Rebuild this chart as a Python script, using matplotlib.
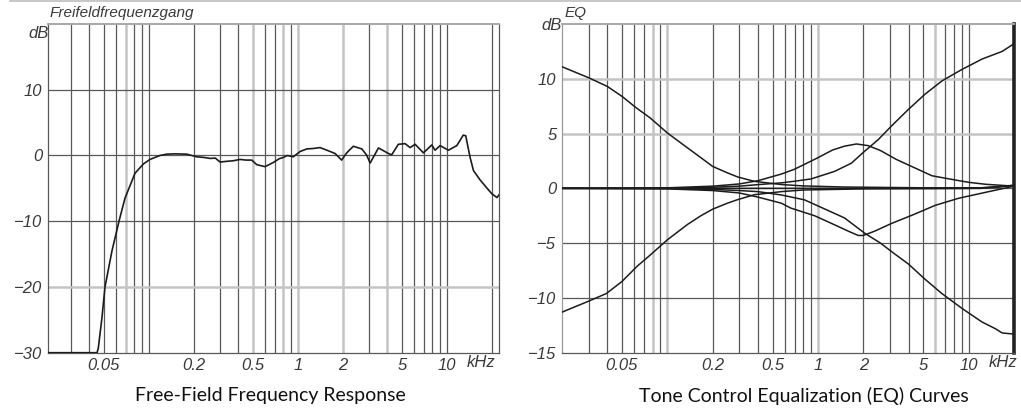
import matplotlib
matplotlib.use("Agg")
import matplotlib.pyplot as plt
from matplotlib.lines import Line2D

# ---------------- data (frequencies in kHz, levels in dB) ----------------
ff_khz = [0.0211, 0.045, 0.0459, 0.0485, 0.0509, 0.0567, 0.0632, 0.0693, 0.0749, 0.0809,
          0.092, 0.102, 0.119, 0.132, 0.15, 0.18, 0.21, 0.235, 0.258, 0.28,
          0.301, 0.33, 0.37, 0.41, 0.45, 0.491, 0.531, 0.603, 0.686, 0.75,
          0.80, 0.85, 0.934, 1.036, 1.15, 1.27, 1.41, 1.57, 1.78, 1.97,
          2.13, 2.36, 2.69, 2.90, 3.06, 3.48, 4.06, 4.27, 4.73, 5.25,
          5.67, 6.13, 6.97, 7.93, 8.34, 9.02, 10.25, 11.67, 12.9, 13.4,
          14.3, 15.1, 16.7, 18.5, 20.0, 21.7, 22.4]
ff_db = [-30, -30, -29.3, -24.8, -20, -14.5, -10, -6.5, -4.6, -2.7,
         -1.3, -0.6, 0.0, 0.2, 0.25, 0.2, -0.2, -0.3, -0.45, -0.4,
         -1.0, -0.9, -0.8, -0.6, -0.7, -0.7, -1.4, -1.7, -1.06, -0.5,
         -0.3, 0.0, -0.2, 0.6, 1.0, 1.06, 1.2, 0.8, 0.3, -0.7,
         0.4, 1.4, 1.0, 0.05, -1.15, 1.15, 0.3, 0.1, 1.7, 1.8,
         1.2, 1.7, 0.4, 1.6, 0.8, 1.5, 0.8, 1.5, 3.1, 3.0,
         -0.2, -2.3, -3.7, -4.9, -5.8, -6.4, -6.0]

bass_boost_khz = [0.02, 0.03, 0.04, 0.05, 0.0615, 0.0774, 0.1, 0.136, 0.167, 0.2,
                  0.251, 0.293, 0.378, 0.57, 0.8, 1.5, 5.0, 12.0, 20.0]
bass_boost_db = [11.1, 10.1, 9.3, 8.4, 7.4, 6.4, 5.06, 3.7, 2.8, 2.0,
                 1.41, 1.04, 0.64, 0.35, 0.22, 0.12, 0.05, 0.05, 0.25]

bass_cut_khz = [0.02, 0.03, 0.0394, 0.05, 0.0632, 0.0774, 0.1, 0.136, 0.167, 0.2,
                0.251, 0.293, 0.378, 0.57, 0.8, 2.0, 12.0, 20.0]
bass_cut_db = [-11.3, -10.3, -9.6, -8.5, -7.1, -6.06, -4.7, -3.3, -2.5, -1.9,
               -1.35, -1.03, -0.58, -0.3, -0.15, -0.05, 0.0, 0.25]

treble_boost_khz = [0.02, 0.1, 0.2, 0.3, 0.4, 0.57, 0.7, 0.9, 1.29, 1.667,
                    2.045, 2.512, 3.08, 3.98, 5.14, 6.64, 9.02, 12.27, 16.7, 20.0]
treble_boost_db = [0.0, 0.0, 0.1, 0.2, 0.34, 0.5, 0.65, 0.86, 1.55, 2.3,
                   3.4, 4.45, 5.7, 7.2, 8.6, 9.8, 10.85, 11.8, 12.5, 13.2]

treble_cut_khz = [0.02, 0.1, 0.2, 0.3, 0.4, 0.57, 0.814, 1.5, 2.045, 2.6,
                  3.24, 3.98, 5.14, 6.64, 9.02, 12.27, 15.0, 16.7, 20.0]
treble_cut_db = [0.0, 0.0, -0.1, -0.2, -0.3, -0.6, -1.05, -2.7, -4.1, -5.0,
                 -6.0, -6.9, -8.3, -9.6, -10.95, -12.2, -12.8, -13.2, -13.3]

mid_boost_khz = [0.02, 0.1, 0.2, 0.3, 0.4, 0.57, 0.7, 1.0, 1.25, 1.5,
                 1.8, 2.15, 2.6, 3.3, 4.5, 5.7, 7.5, 10.0, 13.0, 20.0]
mid_boost_db = [0.0, 0.05, 0.2, 0.4, 0.7, 1.3, 1.75, 2.8, 3.5, 3.85,
                4.05, 3.9, 3.45, 2.65, 1.8, 1.15, 0.85, 0.55, 0.37, 0.2]

mid_cut_khz = [0.02, 0.1, 0.2, 0.3, 0.4, 0.57, 0.66, 0.95, 1.23, 1.585,
               1.85, 2.0, 2.385, 3.08, 4.3, 6.0, 8.6, 13.6, 20.0]
mid_cut_db = [0.0, -0.05, -0.2, -0.42, -0.8, -1.35, -1.8, -2.5, -3.2, -3.9,
              -4.3, -4.3, -3.9, -3.2, -2.4, -1.55, -0.9, -0.3, 0.2]

flat_khz = [0.02, 10.0, 15.0, 20.0]
flat_db = [0.0, 0.0, 0.1, 0.3]

x_tick_vals = [0.05, 0.2, 0.5, 1, 2, 5, 10]
x_tick_labels = ["0.05", "0.2", "0.5", "1", "2", "5", "10"]
left_y_ticks = [-30, -20, -10, 0, 10]
left_y_labels = ["\u221230", "\u221220", "\u221210", "0", "10"]
right_y_ticks = [-15, -10, -5, 0, 5, 10]
right_y_labels = ["\u221215", "\u221210", "\u22125", "0", "5", "10"]

grid_minor = [0.03, 0.04, 0.05, 0.06, 0.07, 0.08, 0.09,
              0.1, 0.2, 0.3, 0.4, 0.5, 0.6, 0.7, 0.8, 0.9,
              1, 2, 3, 4, 5, 6, 7, 8, 9, 10, 20]

# ---------------- styling ----------------
W, H = 1021, 408
fig = plt.figure(figsize=(W / 100, H / 100), dpi=100)
fig.patch.set_facecolor("white")

LFONT = "Liberation Sans"
CFONT = "Lato"
DARK = "#585858"
LIGHT = "#c4c4c4"
TXT = "#3a3a3a"
CURVE = "#1c1c1c"
TICKSIZE = 12

bottom = 1 - 352.7 / H
height = 328.7 / H
ax1 = fig.add_axes([48 / W, bottom, 451 / W, height])
ax2 = fig.add_axes([562 / W, bottom, 452 / W, height])


def setup(ax, xlim, ylim, yticks, ylabels, light_v, light_h, hlines):
    ax.set_xscale("log")
    ax.set_xlim(*xlim)
    ax.set_ylim(*ylim)
    for v in grid_minor:
        if xlim[0] < v < xlim[1]:
            if v in light_v:
                ax.axvline(v, color=LIGHT, lw=1.8, zorder=1)
            else:
                ax.axvline(v, color=DARK, lw=0.9, zorder=1)
    for h in hlines:
        if h in light_h:
            ax.axhline(h, color=LIGHT, lw=1.8, zorder=1)
        else:
            ax.axhline(h, color=DARK, lw=0.9, zorder=1)
    ax.set_xticks(x_tick_vals)
    ax.set_xticklabels(x_tick_labels)
    ax.minorticks_off()
    ax.set_yticks(yticks)
    ax.set_yticklabels(ylabels)
    ax.tick_params(axis="x", length=0, pad=3.5, labelcolor=TXT, labelsize=TICKSIZE)
    ax.tick_params(axis="y", length=0, pad=4.0, labelcolor=TXT, labelsize=TICKSIZE)
    for lab in ax.get_xticklabels() + ax.get_yticklabels():
        lab.set_fontfamily(LFONT)
        lab.set_fontstyle("italic")
    for s in ax.spines.values():
        s.set_color(DARK)
        s.set_linewidth(0.9)
    ax.spines["top"].set_color("#a8a8a8")
    ax.spines["top"].set_linewidth(1.4)


setup(ax1, (0.0211, 22.4), (-30, 20), left_y_ticks, left_y_labels,
      light_v=[0.07, 0.5, 0.8, 1, 2, 4], light_h=[-20], hlines=[-20, -10, 0, 10])
setup(ax2, (0.02, 20.0), (-15, 15), right_y_ticks, right_y_labels,
      light_v=[0.08, 0.1, 1, 6], light_h=[10, 5], hlines=[-10, -5, 0, 5, 10])
ax2.spines["right"].set_color("#222222")
ax2.spines["right"].set_linewidth(2.6)
ax2.spines["left"].set_color("#9a9a9a")

# curves
ax1.plot(ff_khz, ff_db, color=CURVE, lw=1.2, zorder=3, solid_joinstyle="round")
for fx, fy in [(flat_khz, flat_db), (bass_boost_khz, bass_boost_db), (bass_cut_khz, bass_cut_db),
               (treble_boost_khz, treble_boost_db), (treble_cut_khz, treble_cut_db),
               (mid_boost_khz, mid_boost_db), (mid_cut_khz, mid_cut_db)]:
    ax2.plot(fx, fy, color=CURVE, lw=1.1, zorder=3, solid_joinstyle="round")

# labels inside chart area
ital = dict(fontfamily=LFONT, fontstyle="italic", color=TXT)
ax1.text(0.960, -0.031, "kHz", transform=ax1.transAxes, ha="center", va="center", fontsize=TICKSIZE, **ital)
ax2.text(0.976, -0.031, "kHz", transform=ax2.transAxes, ha="center", va="center", fontsize=TICKSIZE, **ital)
fig.text(49 / W, 1 - 33 / H, "dB", ha="right", va="center", fontsize=TICKSIZE, **ital)
fig.text(562 / W, 1 - 26 / H, "dB", ha="right", va="center", fontsize=TICKSIZE, **ital)
fig.text(50 / W, 1 - 12.7 / H, "Freifeldfrequenzgang", ha="left", va="center", fontsize=11, **ital)
fig.text(565 / W, 1 - 13.5 / H, "EQ", ha="left", va="center", fontsize=11, **ital)

# captions
fig.text(270 / W, 1 - 396 / H, "Free-Field Frequency Response", ha="center", va="center",
         fontsize=14, fontfamily=CFONT, color="#111111")
fig.text(804 / W, 1 - 396 / H, "Tone Control Equalization (EQ) Curves", ha="center", va="center",
         fontsize=14, fontfamily=CFONT, color="#111111")

# thin separator line at the very top
fig.add_artist(Line2D([10 / W, 1.0], [1 - 1 / H, 1 - 1 / H], transform=fig.transFigure,
                      color="#bdbdbd", lw=1.2))

fig.savefig("out.png", dpi=100, facecolor="white")
